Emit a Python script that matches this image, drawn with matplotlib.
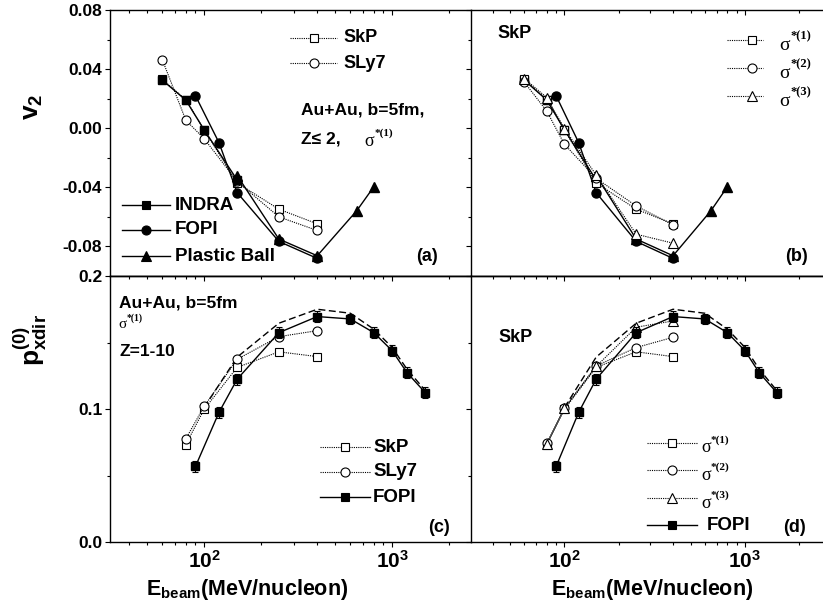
import numpy as np
import matplotlib
matplotlib.use('Agg')
from matplotlib import pyplot as plt
import matplotlib.ticker as mticker

plt.rcParams['font.family'] = ['Liberation Sans', 'DejaVu Sans']
plt.rcParams['font.weight'] = 'bold'
plt.rcParams['mathtext.fontset'] = 'custom'
plt.rcParams['mathtext.rm'] = 'Liberation Sans:bold'
plt.rcParams['mathtext.bf'] = 'Liberation Sans:bold'
plt.rcParams['mathtext.it'] = 'Liberation Sans:bold'

# ---- data: elliptic flow v2 (top panels)
E_v2_indra = [60, 80, 100, 150]
v2_indra = [0.0325, 0.019, -0.001, -0.035]
E_v2_fopi = [90, 120, 150, 250, 400]
v2_fopi = [0.022, -0.0097, -0.0436, -0.0766, -0.0881]
E_v2_pb = [150, 250, 400, 650, 800]
v2_pb = [-0.032, -0.075, -0.0863, -0.0557, -0.0396]
E_v2_calc = [60, 80, 100, 150, 250, 400]
v2_skp_s1 = [0.033, 0.0193, -0.001, -0.037, -0.0548, -0.0647]
v2_sly7_s1 = [0.0463, 0.0054, -0.007, -0.036, -0.060, -0.0692]
v2_skp_s2 = [0.0312, 0.0115, -0.0108, -0.0339, -0.0526, -0.0654]
v2_skp_s3 = [0.0336, 0.0207, -0.0002, -0.0317, -0.0717, -0.0778]

# ---- data: directed flow pxdir (bottom panels)
E_px_fopi = [90, 120, 150, 250, 400, 600, 800, 1000, 1200, 1500]
px_fopi = [0.0568, 0.0974, 0.1224, 0.1574, 0.1695, 0.1677, 0.1574, 0.1439, 0.1274, 0.1124]
px_fopi_err = [0.004, 0.004, 0.004, 0.004, 0.004, 0.004, 0.004, 0.004, 0.004, 0.004]
E_px_dash = [100, 150, 250, 400, 600, 800, 1000, 1200, 1500]
px_dash = [0.101, 0.139, 0.1645, 0.175, 0.172, 0.160, 0.1464, 0.130, 0.114]
E_px_calc = [80, 100, 150, 250, 400]
px_skp_s1 = [0.0733, 0.0997, 0.1313, 0.1430, 0.1394]
px_sly7_s1 = [0.0776, 0.1019, 0.1374, 0.1544, 0.1589]
px_skp_s2 = [0.0743, 0.1006, 0.1324, 0.1462, 0.1539]
px_skp_s3 = [0.0738, 0.1004, 0.1320, 0.1615, 0.1662]

W, H = 823, 611
fig = plt.figure(figsize=(W / 100, H / 100), dpi=100)


def P(x, y):
    return x / W, 1 - y / H


def box(x0, y0, x1, y1):
    return [x0 / W, 1 - y1 / H, (x1 - x0) / W, (y1 - y0) / H]


axA = fig.add_axes(box(110, 10, 471, 276))
axB = fig.add_axes(box(471, 10, 831, 276))
axC = fig.add_axes(box(110, 276, 471, 542))
axD = fig.add_axes(box(471, 276, 831, 542))

dot = (0, (1, 1))
solid_kw = dict(color='black', lw=1.0, mec='black', mfc='black')
open_kw = dict(color='black', lw=0.8, ls=dot, mec='black', mfc='white', mew=0.8)
MS = {'s': 6.3, 'o': 6.5, '^': 7}

for ax in (axA, axB, axC, axD):
    ax.set_xscale('log')
    ax.spines['right'].set_visible(False)
    for s in ('left', 'top', 'bottom'):
        ax.spines[s].set_linewidth(1.0)
    ax.xaxis.set_major_locator(mticker.LogLocator(base=10))
    ax.xaxis.set_minor_locator(mticker.LogLocator(base=10, subs=np.arange(2, 10)))
    ax.xaxis.set_minor_formatter(mticker.NullFormatter())
    ax.tick_params(axis='y', which='both', direction='out', left=True, right=False,
                   labelsize=12.5, pad=2)
    ax.tick_params(which='major', length=3.5, width=0.8)
    ax.tick_params(which='minor', length=2, width=0.8)

axA.set_xlim(31.6, 2630)
axC.set_xlim(31.6, 2630)
axB.set_xlim(30.4, 3000)
axD.set_xlim(30.4, 3000)

for ax in (axA, axB):
    ax.set_ylim(-0.10, 0.08)
    ax.yaxis.set_major_locator(mticker.FixedLocator([-0.08, -0.04, 0.0, 0.04, 0.08]))
    ax.yaxis.set_minor_locator(mticker.FixedLocator([-0.06, -0.02, 0.02, 0.06]))
    ax.yaxis.set_major_formatter(mticker.FormatStrFormatter('%.2f'))
    ax.tick_params(axis='x', which='both', direction='in', top=True, bottom=False,
                   labeltop=False, labelbottom=False)

for ax in (axC, axD):
    ax.set_ylim(0, 0.2)
    ax.yaxis.set_major_locator(mticker.FixedLocator([0.0, 0.1, 0.2]))
    ax.yaxis.set_minor_locator(mticker.FixedLocator([0.05, 0.15]))
    ax.yaxis.set_major_formatter(mticker.FormatStrFormatter('%.1f'))
    ax.tick_params(axis='x', which='both', direction='out', top=False, bottom=True,
                   labelsize=15, pad=2)
    ax.xaxis.set_major_formatter(mticker.FuncFormatter(
        lambda v, p: r'$\mathbf{10^{%d}}$' % round(np.log10(v))))
    sec = ax.secondary_xaxis('top')
    sec.tick_params(axis='x', which='both', direction='in', labeltop=False)
    sec.tick_params(which='major', length=3.5, width=0.8)
    sec.tick_params(which='minor', length=2, width=0.8)
    sec.xaxis.set_minor_locator(mticker.LogLocator(base=10, subs=np.arange(2, 10)))
    sec.xaxis.set_minor_formatter(mticker.NullFormatter())
    sec.spines['top'].set_linewidth(1.0)

for ax in (axB, axD):
    ax.tick_params(axis='y', labelleft=False)

# ---- panel (a)
axA.plot(E_v2_calc, v2_skp_s1, marker='s', ms=MS['s'], **open_kw)
axA.plot(E_v2_calc, v2_sly7_s1, marker='o', ms=MS['o'], **open_kw)
axA.plot(E_v2_indra, v2_indra, marker='s', ms=MS['s'], **solid_kw)
axA.plot(E_v2_fopi, v2_fopi, marker='o', ms=MS['o'], **solid_kw)
axA.plot(E_v2_pb, v2_pb, marker='^', ms=MS['^'], **solid_kw)

# ---- panel (b)
axB.plot(E_v2_indra, v2_indra, marker='s', ms=MS['s'], **solid_kw)
axB.plot(E_v2_fopi, v2_fopi, marker='o', ms=MS['o'], **solid_kw)
axB.plot(E_v2_pb, v2_pb, marker='^', ms=MS['^'], **solid_kw)
axB.plot(E_v2_calc, v2_skp_s1, marker='s', ms=MS['s'], **open_kw)
axB.plot(E_v2_calc, v2_skp_s2, marker='o', ms=MS['o'], **open_kw)
axB.plot(E_v2_calc, v2_skp_s3, marker='^', ms=MS['^'], **open_kw)

# ---- panels (c) and (d)
for ax, series in ((axC, [(px_skp_s1, 's'), (px_sly7_s1, 'o')]),
                   (axD, [(px_skp_s1, 's'), (px_skp_s2, 'o'), (px_skp_s3, '^')])):
    ax.plot(E_px_dash, px_dash, color='black', lw=1.0, ls=(0, (5, 2.5)))
    for vals, m in series:
        ax.plot(E_px_calc, vals, marker=m, ms=MS[m], **open_kw)
    ax.errorbar(E_px_fopi, px_fopi, yerr=px_fopi_err, marker='s', ms=6,
                capsize=2, elinewidth=0.8, capthick=0.8, **solid_kw)


# ---- legends and annotations (figure pixel coordinates)
def row(x0, x1, xm, y, marker, mfc, ls, ms=6):
    fx0, fy = P(x0, y)
    fx1, _ = P(x1, y)
    fxm, _ = P(xm, y)
    lw = 1.0 if ls == '-' else 0.8
    fig.add_artist(plt.Line2D([fx0, fx1], [fy, fy], transform=fig.transFigure,
                              color='black', lw=lw, ls=ls))
    fig.add_artist(plt.Line2D([fxm], [fy], transform=fig.transFigure, marker=marker,
                              ms=ms, mfc=mfc, mec='black', mew=0.8, ls='none'))


def label(x, y, s, size=13, **kw):
    fig.text(*P(x, y), s, fontsize=size, fontweight='bold', va='center', ha='left', **kw)


def sigma(x, y, tag, size=14, supsize=9, dx=11, dy=-9):
    fig.text(*P(x, y), 'σ', family='Liberation Serif', fontweight='normal',
             fontsize=size, va='center', ha='left')
    fig.text(*P(x + dx, y + dy), '*(' + tag + ')', family='Liberation Serif',
             fontweight='bold', fontsize=supsize, va='center', ha='left')


# panel (a)
row(290, 337, 314, 38, 's', 'white', dot, MS['s'])
row(290, 337, 314, 63, 'o', 'white', dot, MS['o'])
label(343, 38, 'SkP')
label(343, 63, 'SLy7')
label(301, 110, 'Au+Au, b=5fm,', 12.5)
label(301, 139, 'Z≤ 2,', 12.5)
sigma(364, 141, '1', size=13, supsize=8, dx=11, dy=-8)
row(122, 170, 146, 205, 's', 'black', '-', MS['s'])
row(122, 170, 146, 230, 'o', 'black', '-', MS['o'])
row(122, 170, 146, 256, '^', 'black', '-', MS['^'])
label(175, 205, 'INDRA', 13.5)
label(175, 230, 'FOPI', 13.5)
label(175, 256, 'Plastic Ball', 13.5)
label(416, 257, '(a)')

# panel (b)
label(497, 33, 'SkP')
row(727, 763, 752, 40, 's', 'white', dot, MS['s'])
row(727, 763, 752, 68, 'o', 'white', dot, MS['o'])
row(727, 763, 752, 96, '^', 'white', dot, MS['^'])
sigma(779, 45, '1')
sigma(779, 73, '2')
sigma(779, 101, '3')
label(785, 257, '(b)')

# panel (c)
label(119, 303, 'Au+Au, b=5fm', 12.5)
sigma(118, 324, '1', size=11, supsize=7, dx=9, dy=-6)
label(119, 352, 'Z=1-10', 12.5)
row(320, 370, 345, 447, 's', 'white', dot, MS['s'])
row(320, 370, 345, 472, 'o', 'white', dot, MS['o'])
row(320, 370, 345, 497, 's', 'black', '-', 6)
label(373, 447, 'SkP', 13.5)
label(373, 472, 'SLy7', 13.5)
label(373, 497, 'FOPI', 13.5)
label(428, 528, '(c)')

# panel (d)
label(498, 337, 'SkP')
row(647, 697, 672, 443, 's', 'white', dot, MS['s'])
row(647, 697, 672, 470, 'o', 'white', dot, MS['o'])
row(647, 697, 672, 498, '^', 'white', dot, MS['^'])
row(647, 697, 672, 525, 's', 'black', '-', 6)
sigma(701, 448, '1', size=13, supsize=8, dx=10, dy=-8)
sigma(701, 475, '2', size=13, supsize=8, dx=10, dy=-8)
sigma(701, 503, '3', size=13, supsize=8, dx=10, dy=-8)
label(707, 526, 'FOPI', 13.5)
label(783, 528, '(d)')

# axis titles
fig.text(*P(33, 107), r'v$_2$', fontsize=19, fontweight='bold', rotation=90,
         va='center', ha='center')
fig.text(*P(30, 340), r'p$^{(0)}_{\mathrm{xdir}}$', fontsize=19, fontweight='bold',
         rotation=90, va='center', ha='center')
fig.text(*P(247, 590), r'E$_{\mathrm{beam}}$(MeV/nucleon)', fontsize=15.5,
         fontweight='bold', va='center', ha='center')
fig.text(*P(652, 590), r'E$_{\mathrm{beam}}$(MeV/nucleon)', fontsize=15.5,
         fontweight='bold', va='center', ha='center')

fig.savefig('out.png', dpi=100)
